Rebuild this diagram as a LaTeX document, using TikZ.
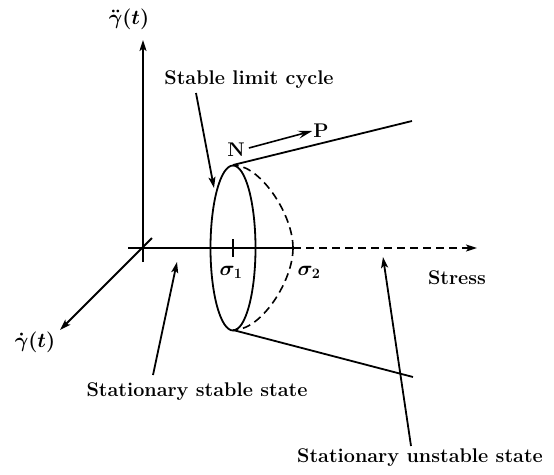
\documentclass[tikz,border=0pt]{standalone}
\usetikzlibrary{arrows.meta}
\begin{document}
\begin{tikzpicture}[x=1pt,y=-1pt,
  lbl/.style={inner sep=1pt,font=\fontsize{19.8}{23}\selectfont\bfseries\boldmath},
  ln/.style={line width=1.8pt},
  tip/.style={-{Stealth[length=11pt,width=7pt,inset=2.5pt]}},
  dsh/.style={line width=1.6pt,dash pattern=on 8pt off 5pt}]
\useasboundingbox (0,0) rectangle (554,474);
% coordinates
\coordinate (O) at (143,248);
\coordinate (vbot) at (143,262);
\coordinate (vtop) at (143,40);
\coordinate (hstart) at (128,248);
\coordinate (s2) at (293,248);
\coordinate (hend) at (477,248);
\coordinate (dstart) at (152,238);
\coordinate (dend) at (60,330);
\coordinate (C) at (233,248);
\coordinate (etop) at (233,165);
\coordinate (ebot) at (233,330);
\coordinate (eleft) at (214,188);
\coordinate (uend) at (412,121);
\coordinate (lend) at (413,377);
\coordinate (t1a) at (233,239);
\coordinate (t1b) at (233,257);
\coordinate (sstip) at (177,262);
\coordinate (ustip) at (383,257);
\coordinate (slcfoot) at (196,93);
\coordinate (sssfoot) at (153,375);
\coordinate (susfoot) at (411,446);
% labels
\node[lbl] (ylab) at (129,19) {$\ddot{\gamma}(t)$};
\node[lbl] (xlab) at (35,342) {$\dot{\gamma}(t)$};
\node[lbl] (slc) at (249,80) {Stable limit cycle};
\node[lbl] (N) at (236,150) {N};
\node[lbl] (P) at (321,131) {P};
\node[lbl] (s1lab) at (231,272) {$\sigma_1$};
\node[lbl] (s2lab) at (309,272) {$\sigma_2$};
\node[lbl] (stress) at (457,278) {Stress};
\node[lbl] (sss) at (197,392) {Stationary stable state};
\node[lbl] (sus) at (420,458) {Stationary unstable state};
% axes
\draw[ln,tip] (vbot) -- (vtop);
\draw[ln] (hstart) -- (s2);
\draw[dsh,tip] (s2) -- (hend);
\draw[ln,tip] (dstart) -- (dend);
\draw[ln] (t1a) -- (t1b);
% limit cycle
\draw[ln] (C) ellipse [x radius=22.5, y radius=82.5];
\draw[ln] (etop) -- (uend);
\draw[ln] (ebot) -- (lend);
\draw[dsh,-{Stealth[length=5pt,width=4pt]}] (s2) .. controls (293,215) and (262,168) .. (etop);
\draw[dsh,-{Stealth[length=5pt,width=4pt]}] (s2) .. controls (293,281) and (262,328) .. (ebot);
% pointers
\draw[ln,tip] (slcfoot) -- (eleft);
\draw[ln,tip] (sssfoot) -- (sstip);
\draw[ln,tip] (susfoot) -- (ustip);
\draw[line width=1.6pt,-{Stealth[open,length=14pt,width=8pt,inset=5pt]}] (N.east) ++(3,-2) -- (P.west);
\end{tikzpicture}
\end{document}
